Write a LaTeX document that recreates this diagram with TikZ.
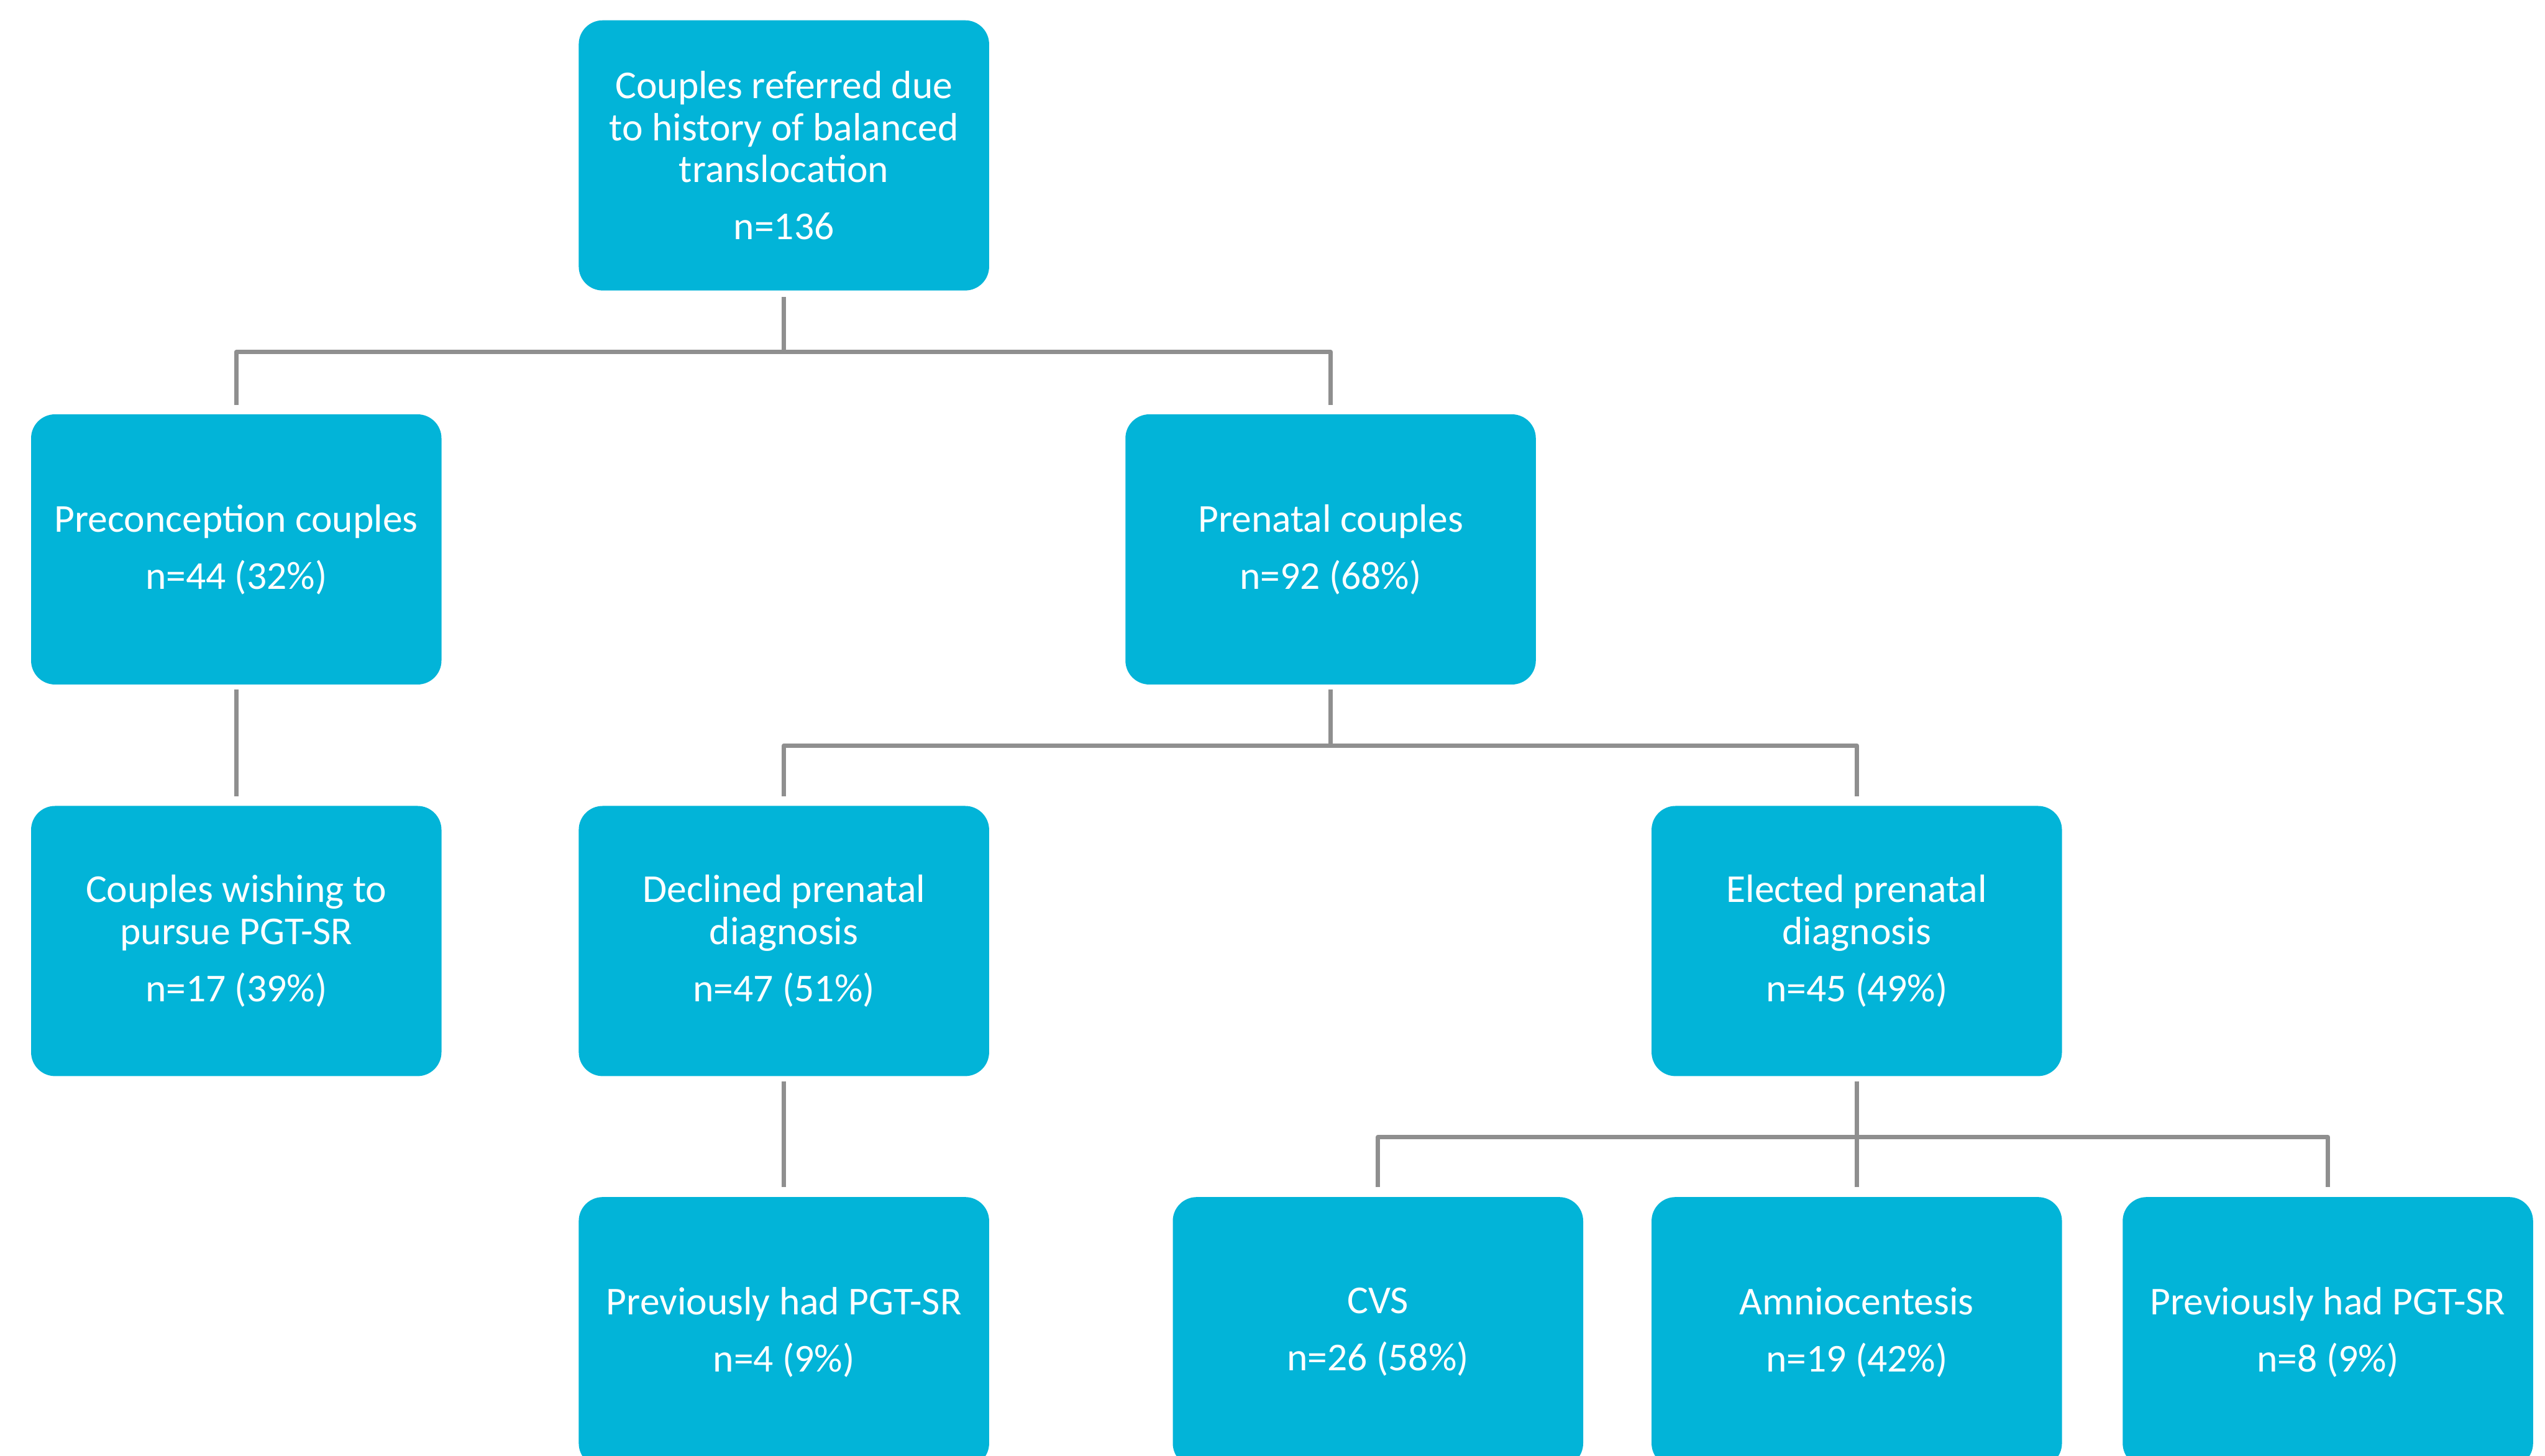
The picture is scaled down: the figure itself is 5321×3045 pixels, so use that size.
\documentclass[tikz,border=0pt]{standalone}
\usepackage{fontspec}
\setmainfont{Carlito}
\usetikzlibrary{calc}
\definecolor{boxblue}{HTML}{02B4D8}
\definecolor{conngray}{HTML}{8F8F8F}
\begin{document}
\begin{tikzpicture}[x=0.1mm,y=-0.1mm,
  flowbox/.style={draw=none,fill=boxblue,rounded corners=5mm,minimum width=85.8mm,minimum height=56.5mm,
    text=white,align=center,inner sep=0pt,font=\fontsize{23.5}{25}\selectfont},
  conn/.style={draw=conngray,line width=0.9mm,line join=round}]
\useasboundingbox (0,0) rectangle (5321,3045);
\clip (0,0) rectangle (5321,3045);
\fill[white] (0,0) rectangle (5321,3045);

\node[flowbox] (top) at (1639,325) {Couples referred due\\to history of balanced\\translocation\\[9pt]n=136};
\node[flowbox] (pre) at (494,1149) {Preconception couples\\[9pt]n=44 (32\%)};
\node[flowbox] (prenatal) at (2782,1149) {Prenatal couples\\[9pt]n=92 (68\%)};
\node[flowbox] (wish) at (494,1968) {Couples wishing to\\pursue PGT-SR\\[9pt]n=17 (39\%)};
\node[flowbox] (declined) at (1639,1968) {Declined prenatal\\diagnosis\\[9pt]n=47 (51\%)};
\node[flowbox] (elected) at (3882,1968) {Elected prenatal\\diagnosis\\[9pt]n=45 (49\%)};
\node[flowbox] (prevL) at (1639,2786) {Previously had PGT-SR\\[9pt]n=4 (9\%)};
\node[flowbox] (cvs) at (2881,2786) {CVS\\[9pt]n=26 (58\%)};
\node[flowbox] (amnio) at (3882,2786) {Amniocentesis\\[9pt]n=19 (42\%)};
\node[flowbox] (prevR) at (4867,2786) {Previously had PGT-SR\\[9pt]n=8 (9\%)};

\coordinate (bus1) at (0,736);
\coordinate (bus2) at (0,1559);
\coordinate (bus3) at (0,2378);

% top -> row 2
\draw[conn] ($(top.south)+(0,13)$) -- (top.south |- bus1);
\draw[conn] ($(pre.north)+(0,-19)$) |- (prenatal.north |- bus1) -- ($(prenatal.north)+(0,-19)$);
% preconception -> wishing
\draw[conn] ($(pre.south)+(0,10)$) -- ($(wish.north)+(0,-20)$);
% prenatal -> row 3
\draw[conn] ($(prenatal.south)+(0,10)$) -- (prenatal.south |- bus2);
\draw[conn] ($(declined.north)+(0,-20)$) |- (elected.north |- bus2) -- ($(elected.north)+(0,-20)$);
% declined -> previously had
\draw[conn] ($(declined.south)+(0,10)$) -- ($(prevL.north)+(0,-20)$);
% elected -> row 4
\draw[conn] ($(elected.south)+(0,10)$) -- ($(amnio.north)+(0,-20)$);
\draw[conn] ($(cvs.north)+(0,-20)$) |- (prevR.north |- bus3) -- ($(prevR.north)+(0,-20)$);
\end{tikzpicture}
\end{document}
